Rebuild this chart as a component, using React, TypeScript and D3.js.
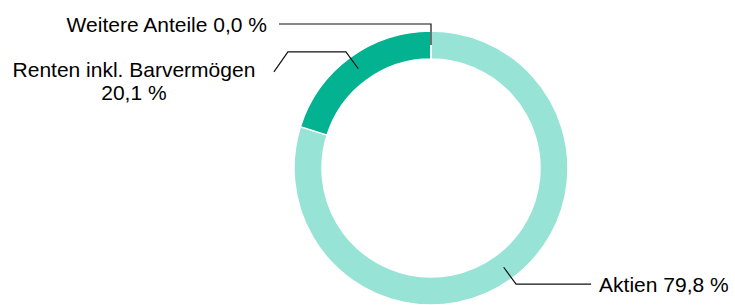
import React from 'react';
import { pie, arc, PieArcDatum } from 'd3';

const width = 735;
const height = 305;

const categories = ['Aktien', 'Renten inkl. Barvermögen', 'Weitere Anteile'];
const shares = [79.8, 20.1, 0.0];
const labels = [['Aktien 79,8 %'], ['Renten inkl. Barvermögen', '20,1 %'], ['Weitere Anteile 0,0 %']];
const colors = ['#97e3d5', '#02b290', '#02b290'];

type Slice = { name: string; value: number; color: string; label: string[] };

const data: Slice[] = categories.map((name, i) => ({
  name,
  value: shares[i],
  color: colors[i],
  label: labels[i],
}));

const cx = 431;
const cy = 168;
const outerR = 137;
const innerR = 109;
const midR = (outerR + innerR) / 2;
const font = '"Liberation Sans", Arial, sans-serif';
const fontSize = 21;

export default function App() {
  const arcs = pie<Slice>().sort(null).value(d => d.value)(data);
  const ringArc = arc<PieArcDatum<Slice>>().innerRadius(innerR).outerRadius(outerR);
  const midArc = arc<PieArcDatum<Slice>>().innerRadius(midR).outerRadius(midR);

  const leader = (a: PieArcDatum<Slice>, i: number) => {
    const [x0, y0] = midArc.centroid(a);
    const mid = (a.startAngle + a.endAngle) / 2;
    const ux = Math.sin(mid);
    const uy = -Math.cos(mid);
    const x1 = x0 + ux * 21;
    const y1 = y0 + uy * 21;
    if (i === 0) {
      // Aktien: out, then right
      const x2 = x1 + 75;
      return {
        d: `M${x0},${y0}L${x1},${y1}L${x2},${y1}`,
        text: (
          <text x={x2 + 8} y={y1 + 7.5} fontSize={fontSize} fontFamily={font} fill="#000">
            {a.data.label[0]}
          </text>
        ),
      };
    }
    if (i === 1) {
      // Renten: out, left, then down-left
      const x2 = x1 - 58;
      const x3 = x2 - 14;
      const y3 = y1 + 20;
      const tx = x3 - 140;
      return {
        d: `M${x0},${y0}L${x1},${y1}L${x2},${y1}L${x3},${y3}`,
        text: (
          <text textAnchor="middle" fontSize={fontSize} fontFamily={font} fill="#000">
            {a.data.label.map((l, k) => (
              <tspan key={k} x={tx} y={y3 + 5 + k * 23}>
                {l}
              </tspan>
            ))}
          </text>
        ),
      };
    }
    // Weitere: straight up, then left
    const x2 = x1 - 152;
    return {
      d: `M${x0},${y0}L${x1},${y1}L${x2},${y1}`,
      text: (
        <text x={x2 - 12} y={y1 + 7.5} textAnchor="end" fontSize={fontSize} fontFamily={font} fill="#000">
          {a.data.label[0]}
        </text>
      ),
    };
  };

  return (
    <svg
      width={width}
      height={height}
      style={{ position: 'absolute', left: 0, top: 0, background: '#fff' }}
    >
      <g transform={`translate(${cx},${cy})`}>
        {arcs.map((a, i) => (
          <path key={i} d={ringArc(a) || ''} fill={a.data.color} stroke="#fff" strokeWidth={1.5} />
        ))}
        {arcs.map((a, i) => {
          const l = leader(a, i);
          return (
            <g key={'l' + i}>
              <path d={l.d} fill="none" stroke="#111" strokeWidth={1.2} />
              {l.text}
            </g>
          );
        })}
      </g>
    </svg>
  );
}
